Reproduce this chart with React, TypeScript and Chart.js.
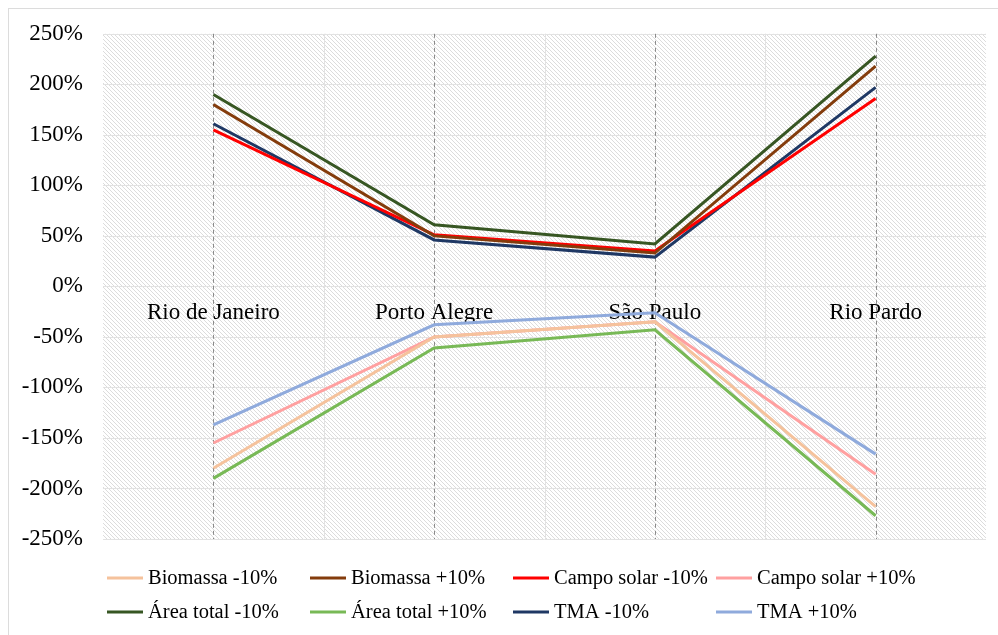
import React, { useEffect, useRef } from "react";
import { Chart, registerables } from "chart.js";

Chart.register(...registerables);

const categories = ["Rio de Janeiro", "Porto Alegre", "São Paulo", "Rio Pardo"];

const seriesNames = [
  "Biomassa -10%",
  "Biomassa +10%",
  "Campo solar -10%",
  "Campo solar +10%",
  "Área total -10%",
  "Área total +10%",
  "TMA -10%",
  "TMA +10%",
];

const biomassaMinus = [-180, -50, -35, -218];
const biomassaPlus = [180, 50, 33, 218];
const campoMinus = [155, 51, 35, 186];
const campoPlus = [-155, -50, -35, -186];
const areaMinus = [190, 61, 42, 228];
const areaPlus = [-190, -61, -43, -227];
const tmaMinus = [161, 46, 29, 197];
const tmaPlus = [-137, -38, -26, -166];

const seriesValues = [biomassaMinus, biomassaPlus, campoMinus, campoPlus, areaMinus, areaPlus, tmaMinus, tmaPlus];

const seriesColors = [
  "#F5C29C",
  "#843C0C",
  "#FF0000",
  "#FFA0A0",
  "#375623",
  "#78B956",
  "#1F3864",
  "#8FAADC",
];

const yMin = -250;
const yMax = 250;
const yStep = 50;

const FONT = "'Liberation Serif', 'Times New Roman', serif";

function makeHatch(ctx: CanvasRenderingContext2D): CanvasPattern | string {
  const c = document.createElement("canvas");
  const s = 4;
  c.width = s;
  c.height = s;
  const g = c.getContext("2d");
  if (!g) return "#fff";
  g.fillStyle = "#ffffff";
  g.fillRect(0, 0, s, s);
  g.strokeStyle = "#dcdcdc";
  g.lineWidth = 1;
  g.beginPath();
  g.moveTo(-1, -1);
  g.lineTo(s + 1, s + 1);
  g.moveTo(-1, s - 1);
  g.lineTo(1, s + 1);
  g.moveTo(s - 1, -1);
  g.lineTo(s + 1, 1);
  g.stroke();
  return ctx.createPattern(c, "repeat") || "#fff";
}

const backgroundPlugin = {
  id: "hatchGrid",
  beforeDraw(chart: any) {
    const { ctx, chartArea, scales } = chart;
    const { left, right, top, bottom } = chartArea;
    ctx.save();
    ctx.fillStyle = makeHatch(ctx);
    ctx.fillRect(left, top, right - left, bottom - top);
    // horizontal grid
    ctx.strokeStyle = "#e2e2e2";
    ctx.lineWidth = 1;
    const ys = scales.y;
    ys.ticks.forEach((t: any) => {
      const py = Math.round(ys.getPixelForValue(t.value)) + 0.5;
      ctx.beginPath();
      ctx.moveTo(left, py);
      ctx.lineTo(right, py);
      ctx.stroke();
    });
    // vertical lines between categories
    const xs = scales.x;
    for (let i = 0; i < categories.length - 1; i++) {
      const px = Math.round((xs.getPixelForValue(i) + xs.getPixelForValue(i + 1)) / 2) + 0.5;
      ctx.beginPath();
      ctx.moveTo(px, top);
      ctx.lineTo(px, bottom);
      ctx.stroke();
    }
    // dashed category lines
    ctx.strokeStyle = "#8a8a8a";
    ctx.setLineDash([4, 3]);
    for (let i = 0; i < categories.length; i++) {
      const px = Math.round(xs.getPixelForValue(i)) + 0.5;
      ctx.beginPath();
      ctx.moveTo(px, top);
      ctx.lineTo(px, bottom);
      ctx.stroke();
    }
    ctx.restore();
  },
};

const legendPlugin = {
  id: "gridLegend",
  afterDraw(chart: any) {
    const { ctx, chartArea } = chart;
    const colW = 203;
    const startX = chartArea.left + 4;
    const rowY = [chartArea.bottom + 39, chartArea.bottom + 73];
    ctx.save();
    ctx.font = `20.5px ${FONT}`;
    ctx.textBaseline = "middle";
    ctx.fillStyle = "#000";
    chart.data.datasets.forEach((ds: any, i: number) => {
      const col = i % 4;
      const row = Math.floor(i / 4);
      const x = startX + col * colW;
      const y = rowY[row];
      ctx.strokeStyle = ds.borderColor;
      ctx.lineWidth = 3;
      ctx.beginPath();
      ctx.moveTo(x, y);
      ctx.lineTo(x + 36, y);
      ctx.stroke();
      ctx.fillText(ds.label, x + 41, y + 1);
    });
    ctx.restore();
  },
};

export default function App() {
  const ref = useRef<HTMLCanvasElement | null>(null);

  useEffect(() => {
    if (!ref.current) return;
    const chart = new Chart(ref.current, {
      type: "line",
      data: {
        labels: categories,
        datasets: seriesNames.map((name, i) => ({
          label: name,
          data: seriesValues[i],
          borderColor: seriesColors[i],
          backgroundColor: seriesColors[i],
          borderWidth: 3,
          pointRadius: 0,
          tension: 0,
          fill: false,
        })),
      },
      options: {
        animation: false,
        responsive: false,
        devicePixelRatio: 1,
        layout: { padding: { top: 31, right: 12, bottom: 96, left: 0 } },
        plugins: {
          legend: { display: false },
          tooltip: { enabled: false },
        },
        scales: {
          x: {
            type: "category",
            offset: true,
            position: { y: 0 } as any,
            grid: { display: false, drawTicks: false },
            border: { display: false },
            ticks: {
              color: "#000",
              font: { family: FONT, size: 23 },
              padding: 13,
              maxRotation: 0,
              autoSkip: false,
            },
          },
          y: {
            min: yMin,
            max: yMax,
            grid: { display: false, drawTicks: false },
            border: { display: false },
            afterFit: (scale: any) => {
              scale.width = 103;
            },
            ticks: {
              stepSize: yStep,
              color: "#000",
              font: { family: FONT, size: 23 },
              padding: 20,
              callback: (v: any) => `${v}%`,
            },
          },
        },
      },
      plugins: [backgroundPlugin, legendPlugin],
    });
    return () => chart.destroy();
  }, []);

  return (
    <div
      style={{
        position: "fixed",
        left: 0,
        top: 0,
        width: 998,
        height: 635,
        background: "#fff",
        overflow: "hidden",
      }}
    >
      <canvas ref={ref} width={998} height={635} style={{ display: "block" }} />
      <div
        style={{
          position: "absolute",
          left: 8,
          top: 8,
          width: 1200,
          height: 1200,
          border: "1px solid #dcdcdc",
          pointerEvents: "none",
        }}
      />
    </div>
  );
}
